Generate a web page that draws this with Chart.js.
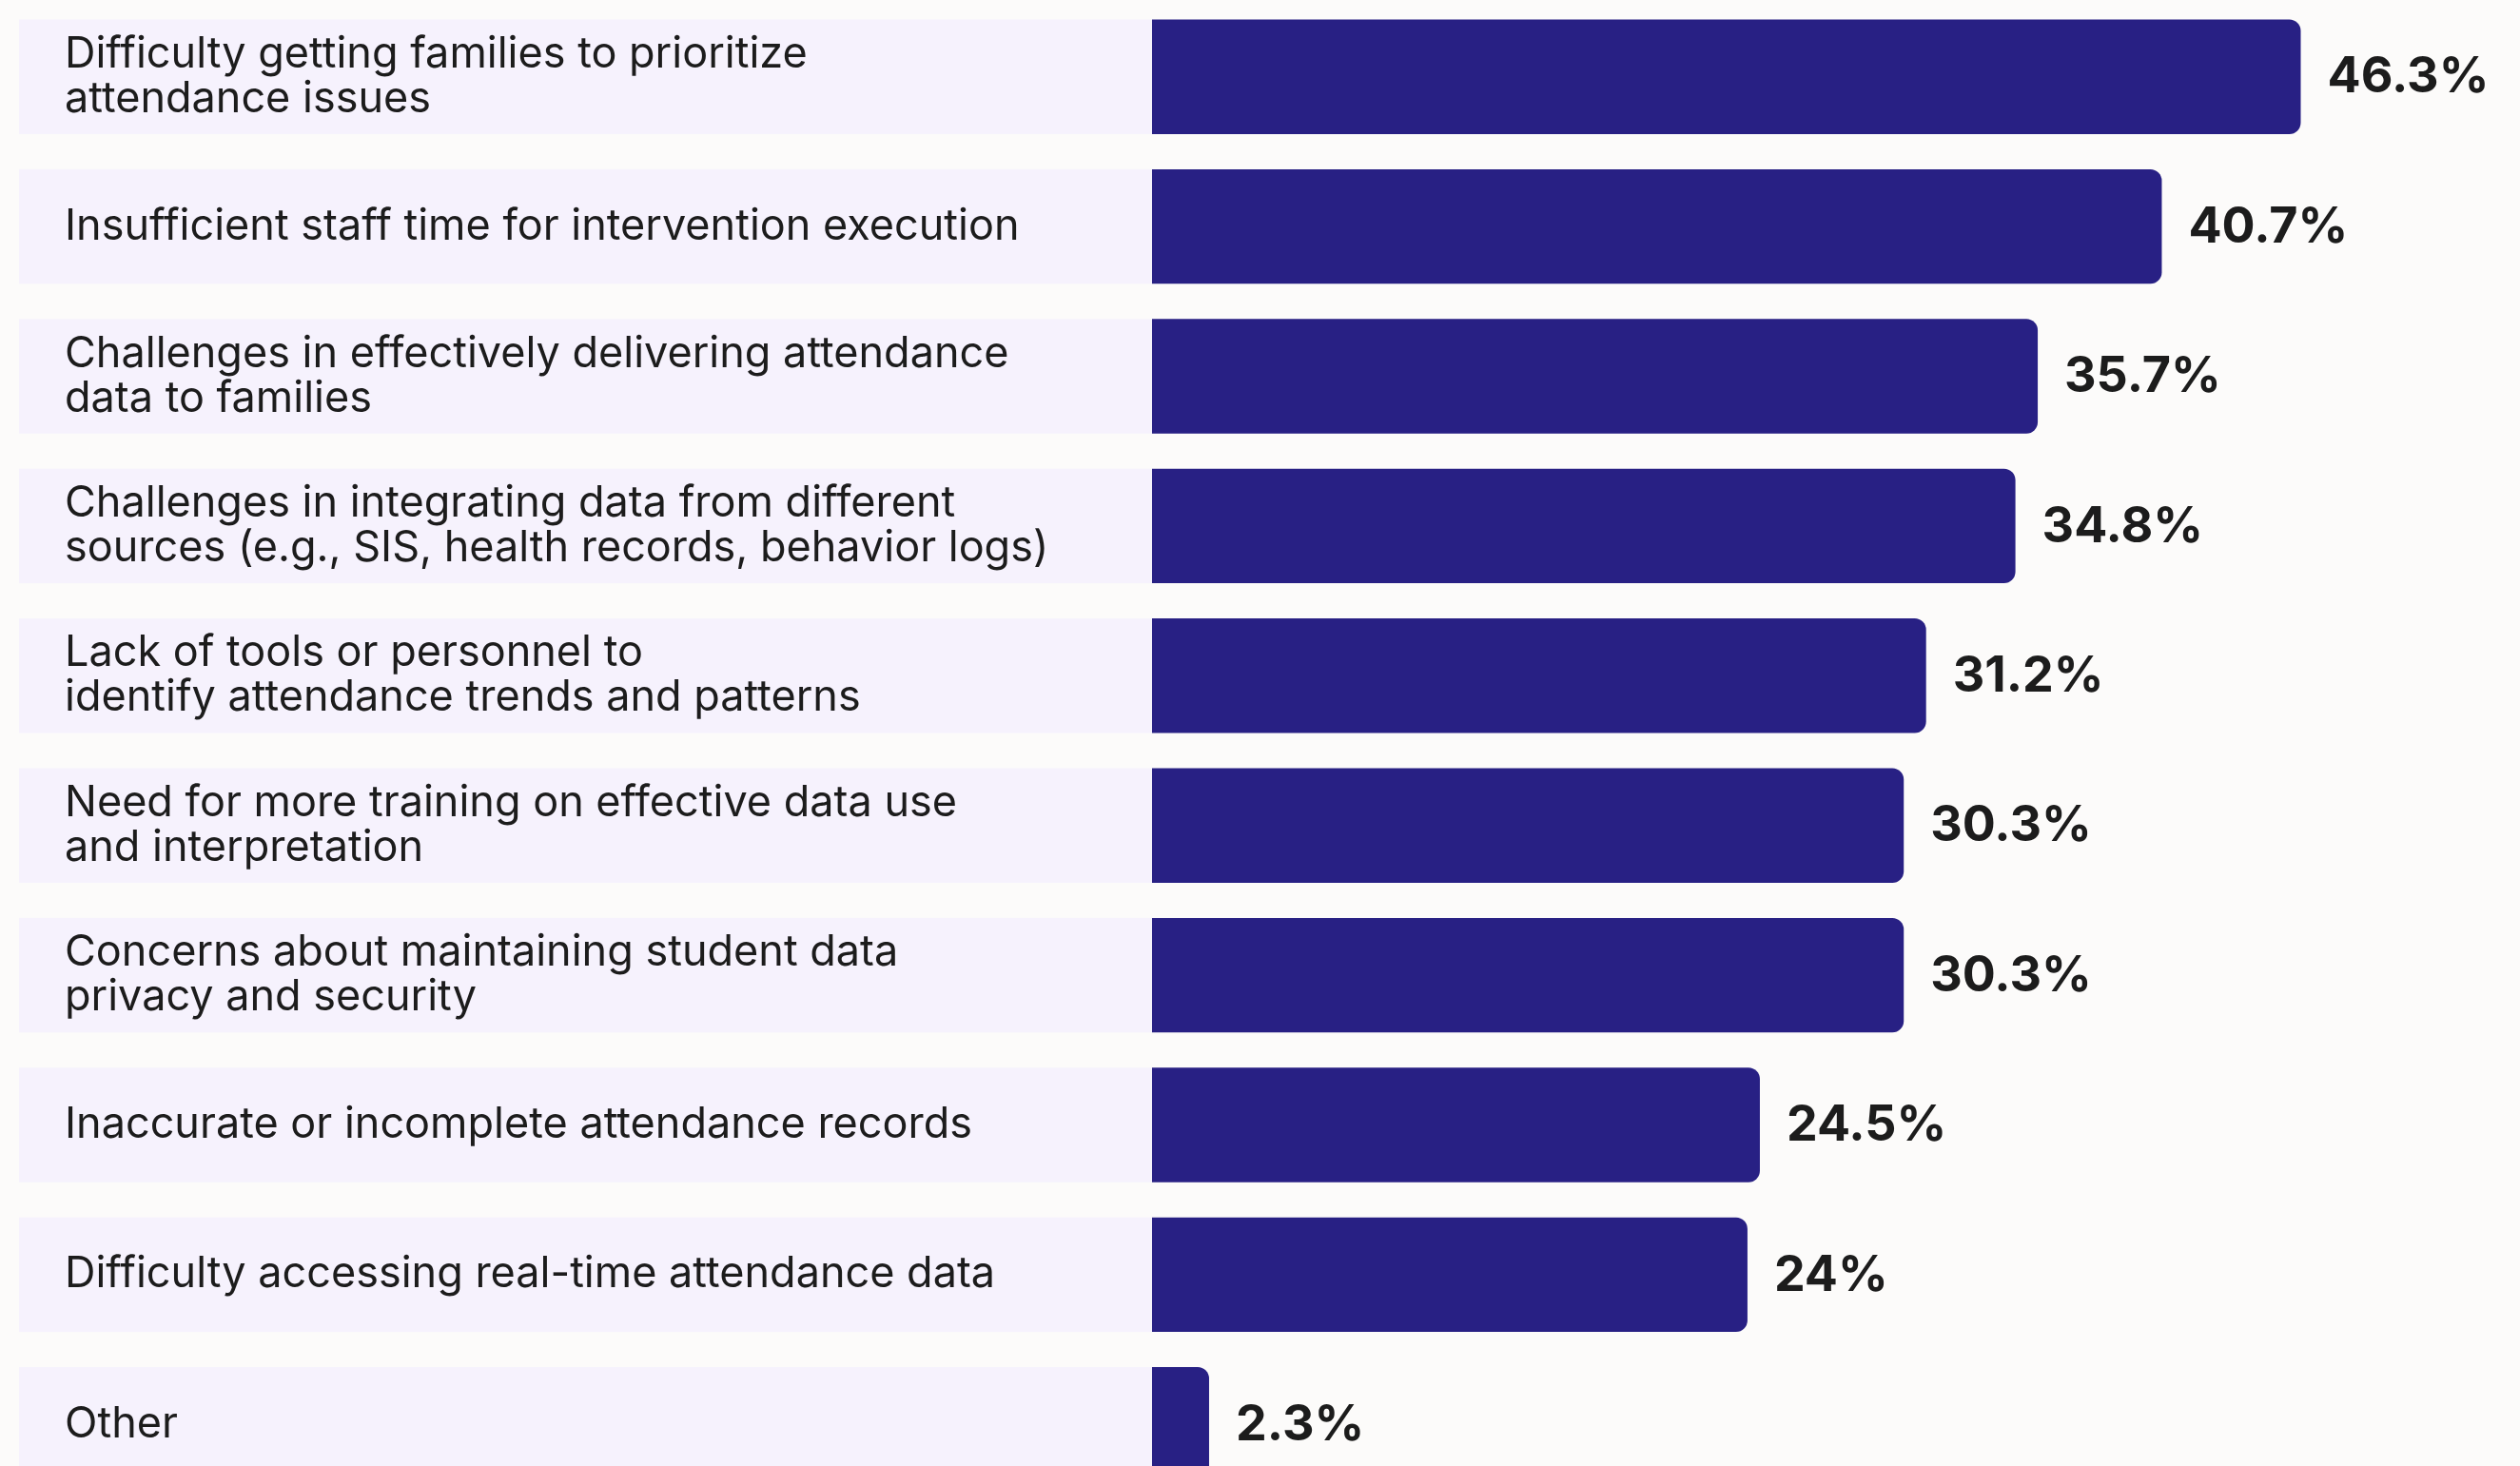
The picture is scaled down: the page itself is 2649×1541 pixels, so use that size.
<!DOCTYPE html>
<html>
<head>
<meta charset="utf-8">
<script src="https://cdn.jsdelivr.net/npm/chart.js@4"></script>
<style>
  html, body { margin: 0; padding: 0; background: #fcfbfa; overflow: hidden; }
  #wrap { position: relative; width: 2649px; height: 1576px; }
</style>
</head>
<body>
<div id="wrap"><canvas id="barriers-chart"></canvas></div>
<script>
var categories = [
    ["Difficulty getting families to prioritize", "attendance issues"],
    ["Insufficient staff time for intervention execution"],
    ["Challenges in effectively delivering attendance", "data to families"],
    ["Challenges in integrating data from different", "sources (e.g., SIS, health records, behavior logs)"],
    ["Lack of tools or personnel to", "identify attendance trends and patterns"],
    ["Need for more training on effective data use", "and interpretation"],
    ["Concerns about maintaining student data", "privacy and security"],
    ["Inaccurate or incomplete attendance records"],
    ["Difficulty accessing real-time attendance data"],
    ["Other"]
];
var values = [46.3, 40.7, 35.7, 34.8, 31.2, 30.3, 30.3, 24.5, 24, 2.3];
var valueLabels = ["46.3%", "40.7%", "35.7%", "34.8%", "31.2%", "30.3%", "30.3%", "24.5%", "24%", "2.3%"];

var BG = '#fcfbfa';
var PANEL = '#f6f2fd';
var BAR = '#282084';
var INK = '#1c1c1c';
var PANEL_LEFT = 20;

// light panel behind each label, same height as its bar
var panels = {
    id: 'panels',
    beforeDraw: function (chart) {
	var ctx = chart.ctx;
	ctx.save();
	ctx.fillStyle = BG;
	ctx.fillRect(0, 0, chart.width, chart.height);
	ctx.fillStyle = PANEL;
	chart.getDatasetMeta(0).data.forEach(function (bar) {
	    ctx.fillRect(PANEL_LEFT, bar.y - bar.height / 2, chart.chartArea.left - PANEL_LEFT, bar.height);
	});
	ctx.restore();
    }
};

var valueText = {
    id: 'valueText',
    afterDatasetsDraw: function (chart) {
	var ctx = chart.ctx;
	ctx.save();
	ctx.font = '700 52px Inter';
	ctx.fillStyle = INK;
	ctx.textAlign = 'left';
	ctx.textBaseline = 'middle';
	chart.getDatasetMeta(0).data.forEach(function (bar, i) {
	    ctx.fillText(valueLabels[i], bar.x + 28, bar.y + 1);
	});
	ctx.restore();
    }
};

new Chart(document.getElementById('barriers-chart'), {
    type: 'bar',
    data: {
	labels: categories,
	datasets: [{
	    data: values,
	    backgroundColor: BAR,
	    borderWidth: 0,
	    borderSkipped: 'start',
	    borderRadius: { topRight: 12, bottomRight: 12, topLeft: 0, bottomLeft: 0 },
	    barPercentage: 0.765,
	    categoryPercentage: 1
	}]
    },
    options: {
	indexAxis: 'y',
	responsive: true,
	maintainAspectRatio: false,
	animation: false,
	layout: { padding: { left: 68, right: 134, top: 2, bottom: 0 } },
	plugins: {
	    legend: { display: false },
	    tooltip: { enabled: false }
	},
	scales: {
	    x: {
		display: false,
		min: 0,
		max: 50
	    },
	    y: {
		grid: { display: false, drawTicks: false },
		border: { display: false },
		afterFit: function (scale) {
		    scale.width = 1211 - 68;
		    scale.paddingTop = 0;
		    scale.paddingBottom = 0;
		},
		ticks: {
		    autoSkip: false,
		    crossAlign: 'far',
		    color: INK,
		    font: { family: 'Inter', size: 45, lineHeight: 1.045 }
		}
	    }
	}
    },
    plugins: [panels, valueText]
});
</script>
</body>
</html>
